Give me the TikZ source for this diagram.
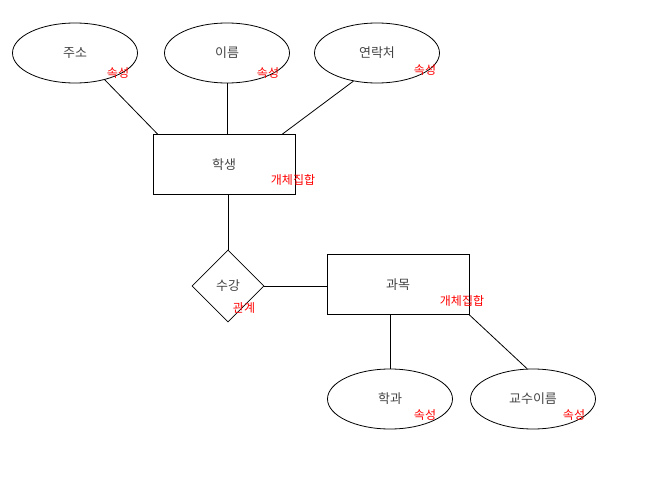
\documentclass[tikz,border=0pt]{standalone}
\usepackage{fontspec}
\setmainfont{Noto Sans CJK KR}
\usetikzlibrary{positioning, shapes.geometric}
\definecolor{textGray}{RGB}{68,68,68}
\definecolor{tagRed}{RGB}{255,0,0}

\begin{document}
\begin{tikzpicture}[
    x=1pt, y=-1pt,
    font=\fontsize{13pt}{15pt}\selectfont,
    attr/.style={draw, ellipse, line width=0.8pt, minimum width=125pt, minimum height=60pt,
                 inner sep=0pt, text=textGray},
    ent/.style={draw, rectangle, line width=0.8pt, minimum width=142pt, minimum height=60pt,
                inner sep=0pt, text=textGray},
    rel/.style={draw, diamond, line width=0.8pt, minimum width=72pt, minimum height=72pt,
                inner sep=0pt, text=textGray},
    tag/.style={text=tagRed, inner sep=0pt, font=\fontsize{12pt}{14pt}\selectfont},
    l/.style={line width=0.8pt},
  ]
    \useasboundingbox (0,0) rectangle (654,479);

    % attributes of the student
    \node[attr] (juso) at (75,53) {주소};
    \node[attr] (ireum) at (227,53) {이름};
    \node[attr] (yeonrak) at (377,53) {연락처};

    % entity sets and relation
    \node[ent] (hakseng) at (224,164.5) {학생};
    \node[rel] (sugang) at (228,286) {수강};
    \node[ent] (gwamok) at (398,284.5) {과목};

    % attributes of the course
    \node[attr] (hakgwa) at (390,399) {학과};
    \node[attr] (gyosu) at (533,399) {교수이름};

    % red tags
    \node[tag] (jusoTag) at (118,73) {속성};
    \node[tag] (ireumTag) at (268,73) {속성};
    \node[tag] (yeonrakTag) at (425,70) {속성};
    \node[tag] (hakgwaTag) at (425,415) {속성};
    \node[tag] (gyosuTag) at (574,415) {속성};
    \node[tag] (haksengTag) at (293,180) {개체집합};
    \node[tag] (gwamokTag) at (462,301) {개체집합};
    \node[tag] (sugangTag) at (244,308) {관계};

    % connectors
    \draw[l] (juso.-42) -- ([xshift=5pt]hakseng.north west);
    \draw[l] (ireum.south) -- (ireum.south |- hakseng.north);
    \draw[l] (yeonrak.-130) -- ([xshift=-13pt]hakseng.north east);
    \draw[l] (sugang.north |- hakseng.south) -- (sugang.north);
    \draw[l] (sugang.east) -- (sugang.east -| gwamok.west);
    \draw[l] (hakgwa.north |- gwamok.south) -- (hakgwa.north);
    \draw[l] (gwamok.south east) -- (gyosu.101);
  \end{tikzpicture}
\end{document}
